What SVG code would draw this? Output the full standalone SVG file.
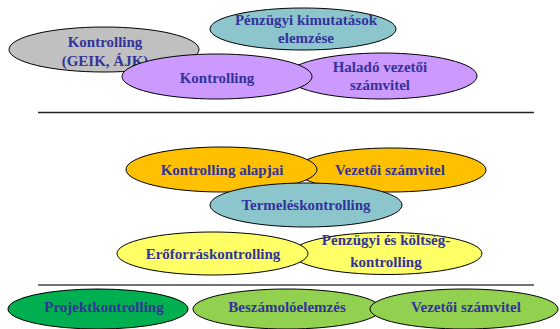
<svg xmlns="http://www.w3.org/2000/svg" width="560" height="329" viewBox="0 0 560 329">
<style>
.n ellipse{stroke:#000;stroke-width:1}
.n text{font-family:"Liberation Serif","Times New Roman",serif;font-weight:bold;font-size:15px;fill:#333399;text-anchor:middle}
.sep{stroke:#222;stroke-width:1.5}
</style>
<rect width="560" height="329" fill="#fff"/>
<g id="n-grey" class="n"><ellipse cx="104" cy="49.5" rx="95" ry="22.5" fill="#c0c0c0"/><text x="105" y="47">Kontrolling</text><text x="105" y="66">(GEIK, ÁJK)</text></g>
<g id="n-penzugyi-kim" class="n"><ellipse cx="303" cy="29" rx="93" ry="21" fill="#8cc6cc"/><text x="306" y="25">Pénzügyi kimutatások</text><text x="306" y="43">elemzése</text></g>
<g id="n-halado" class="n"><ellipse cx="382" cy="76" rx="95" ry="23" fill="#cc99ff"/><text x="380" y="72">Haladó vezetői</text><text x="380" y="90">számvitel</text></g>
<g id="n-kontrolling" class="n"><ellipse cx="217" cy="76.5" rx="95" ry="22.5" fill="#cc99ff"/><text x="217" y="83">Kontrolling</text></g>
<g id="separators"><line class="sep" x1="38" y1="112.5" x2="534" y2="112.5"/><line class="sep" x1="38" y1="285" x2="534" y2="285" style="stroke:#444"/></g>
<g id="n-vezetoi1" class="n"><ellipse cx="391" cy="170" rx="95" ry="22" fill="#ffc000"/><text x="390" y="175">Vezetői számvitel</text></g>
<g id="n-alapjai" class="n"><ellipse cx="221.5" cy="169.5" rx="95.5" ry="22.5" fill="#ffc000"/><text x="222" y="175">Kontrolling alapjai</text></g>
<g id="n-penzugyi-koltseg" class="n"><ellipse cx="387" cy="253.5" rx="95" ry="21" fill="#ffff66"/><text x="386" y="245">Pénzügyi és költség-</text><text x="386" y="267">kontrolling</text></g>
<g id="n-eroforras" class="n"><ellipse cx="212.5" cy="253.5" rx="95.5" ry="21.5" fill="#ffff66"/><text x="213" y="259">Erőforráskontrolling</text></g>
<g id="n-termeles" class="n"><ellipse cx="306" cy="205" rx="96" ry="22" fill="#8cc6cc"/><text x="306" y="210">Termeléskontrolling</text></g>
<g id="n-projekt" class="n"><ellipse cx="98" cy="309" rx="90" ry="20" fill="#00b050"/><text x="104" y="312">Projektkontrolling</text></g>
<g id="n-beszamolo" class="n"><ellipse cx="287" cy="309" rx="94" ry="20" fill="#92d050"/><text x="287" y="312">Beszámolóelemzés</text></g>
<g id="n-vezetoi2" class="n"><ellipse cx="464" cy="309" rx="94" ry="20" fill="#92d050"/><text x="466" y="312">Vezetői számvitel</text></g>
<g id="connectors"/>
</svg>
